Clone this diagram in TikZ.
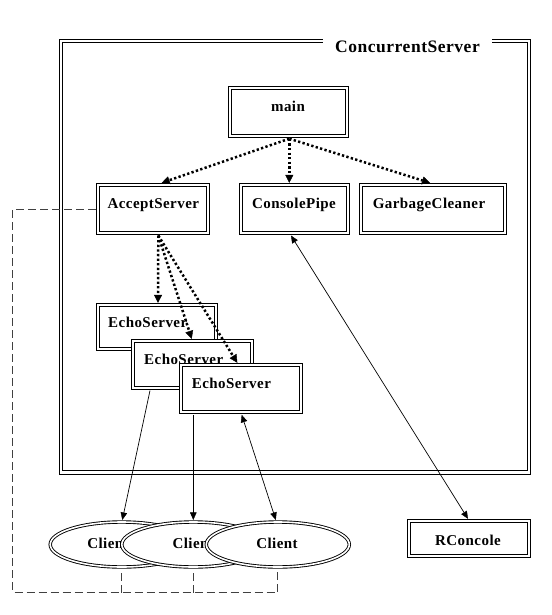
\documentclass[tikz,border=0pt]{standalone}
\usepackage{fontspec}
\setmainfont{Liberation Serif}[LetterSpace=3]
\usetikzlibrary{arrows.meta,shapes.geometric}
\begin{document}
\begin{tikzpicture}[x=1pt,y=-1pt,
  box/.style={draw=black, double=white, double distance=2pt, line width=1pt, fill=white, rectangle, inner sep=0pt},
  cli/.style={draw=black, double=white, double distance=1.6pt, line width=0.9pt, fill=white, ellipse, inner sep=0pt, minimum width=143pt, minimum height=45pt},
  frame/.style={draw=black, double=white, double distance=2.2pt, line width=1pt},
  lbl/.style={font=\bfseries\fontsize{15}{17}\selectfont, inner sep=0pt, anchor=base},
  lblw/.style={font=\bfseries\fontsize{15}{17}\selectfont, inner sep=0pt, anchor=base west},
  ttl/.style={font=\bfseries\fontsize{17.5}{20}\selectfont, inner sep=0pt, anchor=base},
  dotarr/.style={line width=2.5pt, dash pattern=on 2.3pt off 2.3pt, -{Triangle[length=8pt,width=8pt,line width=0.4pt]}},
  thinarr/.style={line width=0.7pt, -{Triangle[length=7.5pt,width=6.5pt,line width=0.4pt]}},
  biarr/.style={line width=0.7pt, {Triangle[length=7.5pt,width=6.5pt,line width=0.4pt]}-{Triangle[length=7.5pt,width=6.5pt,line width=0.4pt]}},
  dashl/.style={draw=black!75, line width=0.9pt, dash pattern=on 8pt off 4pt}
]
\useasboundingbox (0,0) rectangle (551,615);

% frame with gap for the title
\draw[frame] (492,41) -- (529,41) -- (529,472.5) -- (61.3,472.5) -- (61.3,41) -- (323,41);
\node[ttl] (title) at (407.5,52.5) {ConcurrentServer};

% boxes
\node[box, minimum width=117.6pt, minimum height=48pt] (main) at (288.5,112.2) {};
\node[lbl] (mainT) at (288,111) {main};

\node[box, minimum width=110pt, minimum height=47.7pt] (acc) at (153,209.2) {};
\node[lbl] (accT) at (153.3,208.3) {AcceptServer};

\node[box, minimum width=106.7pt, minimum height=47.7pt] (cpipe) at (294.7,209.2) {};
\node[lbl] (cpipeT) at (294,208.3) {ConsolePipe};

\node[box, minimum width=143.7pt, minimum height=47.7pt] (gc) at (433.2,209.2) {};
\node[lbl] (gcT) at (429,208.3) {GarbageCleaner};

\node[box, minimum width=118.6pt, minimum height=43.7pt] (es1) at (157,327.2) {};
\node[lblw] (es1T) at (108,327.5) {EchoServer};

\node[box, minimum width=119.3pt, minimum height=46.7pt] (es2) at (192.7,364.7) {};
\node[lblw] (es2T) at (144,364.3) {EchoServer};

\node[box, minimum width=119.4pt, minimum height=47pt] (es3) at (241,388.8) {};
\node[lblw] (es3T) at (191.7,388.3) {EchoServer};

\node[box, minimum width=119.4pt, minimum height=35pt] (rcon) at (469,538.8) {};
\node[lbl] (rconT) at (468,545) {RConcole};

% dotted calls
\draw[dotarr] ([xshift=0.8pt,yshift=-2pt]main.south) -- ([xshift=8.7pt,yshift=2pt]acc.north);
\draw[dotarr] ([xshift=0.8pt,yshift=-2pt]main.south) -- ([xshift=-5.4pt,yshift=2pt]cpipe.north);
\draw[dotarr] ([xshift=0.8pt,yshift=-2pt]main.south) -- ([xshift=-3.2pt,yshift=2pt]gc.north);
\draw[dotarr] ([xshift=5.3pt,yshift=-2pt]acc.south) -- ([xshift=1pt,yshift=2pt]es1.north);
\draw[dotarr] ([xshift=5.3pt,yshift=-2pt]acc.south) -- ([xshift=-1pt,yshift=2pt]es2.north);
\draw[dotarr] ([xshift=5.3pt,yshift=-2pt]acc.south) -- ([xshift=-3.7pt,yshift=2pt]es3.north);

% clients
\node[cli] (cl1) at (121.7,544.5) {};
\node[lbl] (cl1T) at (108,548.5) {Client};
\node[cli] (cl2) at (193.3,544.5) {};
\node[lbl] (cl2T) at (193.3,548.5) {Client};
\node[cli] (cl3) at (277.8,544.5) {};
\node[lbl] (cl3T) at (277,548.5) {Client};

% solid connectors
\draw[thinarr] ([xshift=-42.7pt,yshift=-2pt]es2.south) -- ([xshift=0.6pt,yshift=1.6pt]cl1.north);
\draw[thinarr] ([xshift=-47.7pt,yshift=-2pt]es3.south) -- ([yshift=1.6pt]cl2.north);
\draw[biarr] ([xshift=0.7pt,yshift=-2pt]es3.south) -- ([xshift=-2pt,yshift=1.6pt]cl3.north);
\draw[biarr] ([xshift=-3.7pt,yshift=-2pt]cpipe.south) -- ([xshift=-1pt,yshift=2pt]rcon.north);

% dashed connection
\coordinate (dl) at (12.7,592.5);
\draw[dashl] ([xshift=-2pt]acc.west) -| (dl) -- (dl -| cl3.south) -- ([yshift=-1.6pt]cl3.south);
\draw[dashl] (dl -| cl1.south) -- ([yshift=-1.6pt]cl1.south);
\draw[dashl] (dl -| cl2.south) -- ([yshift=-1.6pt]cl2.south);
\end{tikzpicture}
\end{document}
